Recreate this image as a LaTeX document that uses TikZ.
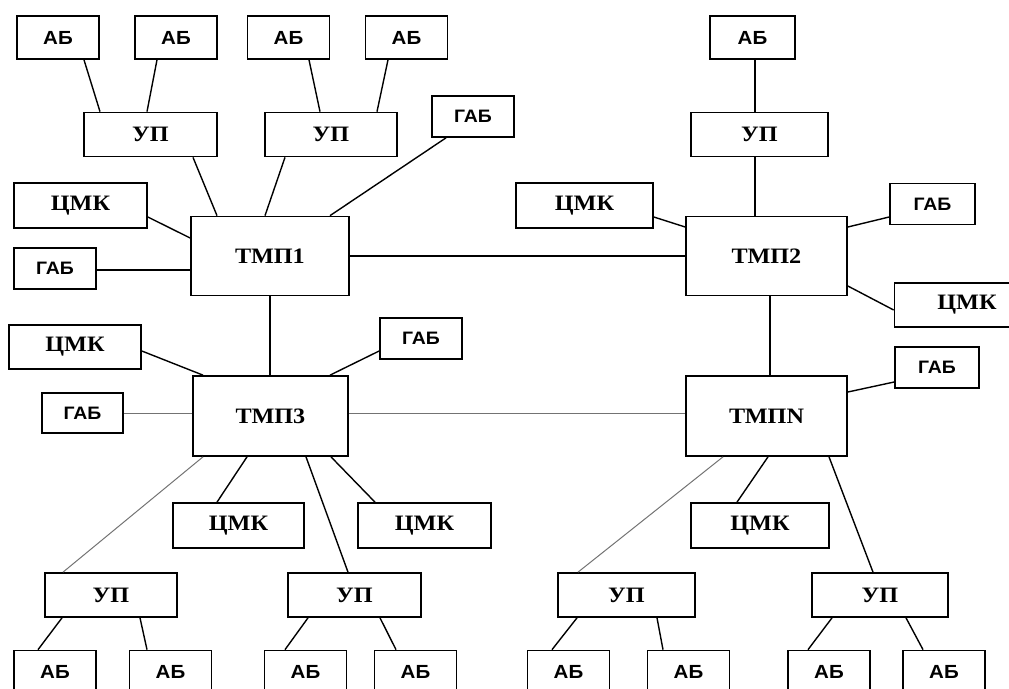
\documentclass[tikz,border=0pt]{standalone}
\usepackage{fontspec}
\setmainfont{Liberation Serif}[FakeStretch=1.1]
\setsansfont{Liberation Sans}[FakeStretch=1.08]
\usepackage{tikz}

\tikzset{
 box/.style={draw, line width=1.7pt, inner sep=0pt},
 ab/.style={box, font=\sffamily\bfseries\fontsize{19}{19}\selectfont, minimum width=82, minimum height=43},
 gab/.style={box, font=\sffamily\bfseries\fontsize{18}{18}\selectfont, minimum width=82, minimum height=41},
 cmk/.style={box, font=\bfseries\fontsize{22}{22}\selectfont, minimum width=133, minimum height=45},
 up/.style={box, font=\bfseries\fontsize{22}{22}\selectfont, minimum width=133, minimum height=44},
 tmp/.style={box, font=\bfseries\fontsize{22}{22}\selectfont, minimum width=158, minimum height=79},
 link/.style={line width=1.4pt},
 faint/.style={line width=1pt, black!55}
}

\begin{document}
\begin{tikzpicture}[x=1pt,y=-1pt]
\useasboundingbox (0,0) rectangle (1009,688);

% TMP1
\node[tmp] (tmp1) at (270,256) {ТМП1};
\foreach \n/\x in {1/58,2/176,3/288.5,4/406.5} \node[ab] (ab\n) at (\x,37.5) {АБ};
\node[up] (up1) at (150.5,134.5) {УП};
\node[up, minimum width=132] (up2) at (331,134.5) {УП};
\node[gab] (gab1) at (473,116.5) {ГАБ};
\node[cmk] (cmk1) at (80.5,205.5) {ЦМК};
\node[gab] (gab2) at (55,268.5) {ГАБ};

% TMP2
\node[tmp, minimum width=161] (tmp2) at (766.5,256) {ТМП2};
\node[ab, minimum width=85] (ab5) at (752.5,37.5) {АБ};
\node[up, minimum width=137] (up3) at (759.5,134.5) {УП};
\node[cmk, minimum width=137] (cmk2) at (584.5,205.5) {ЦМК};
\node[gab, minimum width=85] (gab3) at (932.5,204) {ГАБ};
\node[cmk, minimum width=145, minimum height=44] (cmk3) at (967,305) {ЦМК};

% TMP3
\node[tmp, minimum width=155, minimum height=80] (tmp3) at (270.5,416) {ТМП3};
\node[cmk, minimum width=132, minimum height=44] (cmk4) at (75,347) {ЦМК};
\node[gab] (gab4) at (421,338.5) {ГАБ};
\node[gab, minimum width=81, minimum height=40] (gab5) at (82.5,413) {ГАБ};
\node[cmk, minimum width=131] (cmk5) at (238.5,525.5) {ЦМК};
\node[cmk] (cmk6) at (424.5,525.5) {ЦМК};
\node[up, minimum width=132] (up4) at (111,595) {УП};
\node[up] (up5) at (354.5,595) {УП};

% TMPN
\node[tmp, minimum width=161, minimum height=80] (tmpN) at (766.5,416) {ТМПN};
\node[gab, minimum width=84] (gab6) at (937,367.5) {ГАБ};
\node[cmk, minimum width=138] (cmk7) at (760,525.5) {ЦМК};
\node[up, minimum width=137] (up6) at (626.5,595) {УП};
\node[up, minimum width=136] (up7) at (880,595) {УП};

% bottom row
\foreach \n/\x in {6/55,7/170.5,8/305.5,9/415.5,10/568.5,11/688.5,12/829,13/944}
 \node[ab] (ab\n) at (\x,672) {АБ};

% links TMP1
\draw[link] ([xshift=26]ab1.south) -- ([xshift=-50.5]up1.north);
\draw[link] ([xshift=-19]ab2.south) -- ([xshift=-3.5]up1.north);
\draw[link] ([xshift=20.5]ab3.south) -- ([xshift=-11]up2.north);
\draw[link] ([xshift=-18.5]ab4.south) -- ([xshift=46]up2.north);
\draw[link] ([xshift=42.5]up1.south) -- ([xshift=-53]tmp1.north);
\draw[link] ([xshift=-46]up2.south) -- ([xshift=-5]tmp1.north);
\draw[link] ([xshift=-27]gab1.south) -- ([xshift=60]tmp1.north);
\draw[link] ([yshift=-11.5]cmk1.east) -- ([yshift=18]tmp1.west);
\draw[link] (gab2.east) ++(0,1.5) -- ([yshift=-14]tmp1.west);
\draw[link] (tmp1.east) -- (tmp2.west);
\draw[link] (tmp1.south) -- (tmp3.north -| tmp1.south);

% links TMP2
\draw[link] ([xshift=2.5]ab5.south) -- ([xshift=-4.5]up3.north);
\draw[link] ([xshift=-4.5]up3.south) -- ([xshift=-11.5]tmp2.north);
\draw[link] ([yshift=-11.5]cmk2.east) -- ([yshift=29]tmp2.west);
\draw[link] ([yshift=-13]gab3.west) -- ([yshift=29]tmp2.east);
\draw[link] ([yshift=-5]cmk3.west) -- ([yshift=-30]tmp2.east);
\draw[link] ([xshift=3.5]tmp2.south) -- ([xshift=3.5]tmpN.north);

% links TMP3
\draw[link] ([yshift=-4]cmk4.east) -- ([xshift=-67.5]tmp3.north);
\draw[link] ([yshift=-12.5]gab4.west) -- ([xshift=59.5]tmp3.north);
\draw[faint] (gab5.east) -- (gab5.east -| tmp3.west);
\draw[faint] ([yshift=3]tmp3.east) -- ([yshift=3]tmpN.west);
\draw[faint] ([xshift=-67.5]tmp3.south) -- ([xshift=-48]up4.north);
\draw[link] ([xshift=-23.5]tmp3.south) -- ([xshift=-21.5]cmk5.north);
\draw[link] ([xshift=35.5]tmp3.south) -- ([xshift=-6.5]up5.north);
\draw[link] ([xshift=60.5]tmp3.south) -- ([xshift=-49.5]cmk6.north);
\draw[link] ([xshift=-49]up4.south) -- ([xshift=-17]ab6.north);
\draw[link] ([xshift=29]up4.south) -- ([xshift=-23.5]ab7.north);
\draw[link] ([xshift=-46.5]up5.south) -- ([xshift=-20.5]ab8.north);
\draw[link] ([xshift=25.5]up5.south) -- ([xshift=-19.5]ab9.north);

% links TMPN
\draw[link] ([yshift=-14.5]gab6.west) -- ([yshift=24]tmpN.east);
\draw[faint] ([xshift=-43.5]tmpN.south) -- ([xshift=-48.5]up6.north);
\draw[link] ([xshift=1.5]tmpN.south) -- ([xshift=-23]cmk7.north);
\draw[link] ([xshift=62.5]tmpN.south) -- ([xshift=-7]up7.north);
\draw[link] ([xshift=-49.5]up6.south) -- ([xshift=-16.5]ab10.north);
\draw[link] ([xshift=30.5]up6.south) -- ([xshift=-25.5]ab11.north);
\draw[link] ([xshift=-48]up7.south) -- ([xshift=-21]ab12.north);
\draw[link] ([xshift=26]up7.south) -- ([xshift=-21]ab13.north);

\end{tikzpicture}
\end{document}
